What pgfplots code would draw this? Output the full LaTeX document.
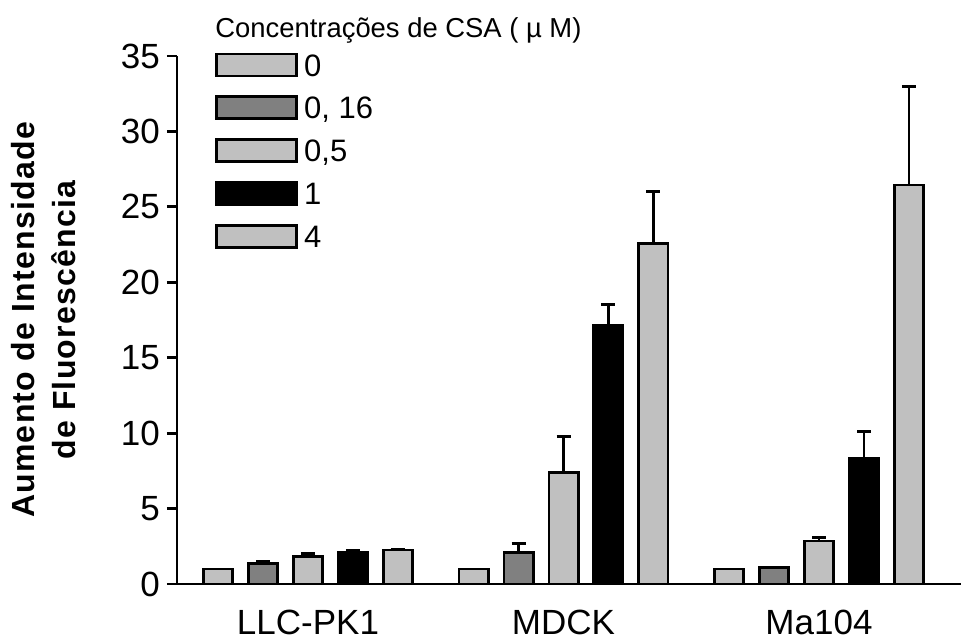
\documentclass[border=0pt]{standalone}
\usepackage{fontspec}
\setmainfont{Liberation Sans}
\usepackage{pgfplots}
\usepackage{pgfplotstable}
\pgfplotsset{compat=1.18}

\definecolor{lightbar}{HTML}{C0C0C0}
\definecolor{darkbar}{HTML}{808080}

% x: bar position (cell lines at 0 = LLC-PK1, 1 = MDCK, 2 = Ma104),
% y: mean fluorescence increase, err: upper error
\pgfplotstableread{
x y err
-0.3522 1.00 0.00
0.6478 1.00 0.00
1.6478 1.00 0.00
}\concA
\pgfplotstableread{
x y err
-0.1761 1.35 0.15
0.8239 2.10 0.60
1.8239 1.10 0.03
}\concB
\pgfplotstableread{
x y err
0 1.80 0.20
1 7.40 2.40
2 2.85 0.25
}\concC
\pgfplotstableread{
x y err
0.1761 2.10 0.10
1.1761 17.15 1.40
2.1761 8.30 1.80
}\concD
\pgfplotstableread{
x y err
0.3522 2.25 0.05
1.3522 22.55 3.45
2.3522 26.45 6.55
}\concE

\pgfplotsset{
  concbar/.style={
    ybar, bar width=14.6pt, bar shift=0pt, draw=black, line width=1.4pt,
    legend image code/.code={\draw[##1] (0pt,-5.5pt) rectangle (40pt,5.5pt);},
    error bars/y dir=plus, error bars/y explicit,
    error bars/error bar style={line width=1.4pt, black},
    error bars/error mark options={rotate=90, mark size=3.5pt, line width=1.4pt, black},
  },
}

\begin{document}
\begin{tikzpicture}
\path[use as bounding box] (-88.5pt,-27.5pt) rectangle (392pt,292pt);
\begin{axis}[
  at={(0,0)}, anchor=south west,
  scale only axis, width=392pt, height=264pt,
  xmin=-0.5127, xmax=2.5558, ymin=0, ymax=35,
  axis x line=bottom, axis y line=left,
  axis line style={line width=1.4pt, -},
  x axis line style={-}, y axis line style={-},
  xtick={0,1,2}, xticklabels={LLC-PK1, MDCK, Ma104},
  x tick style={draw=none},
  xticklabel style={yshift=-4.5pt},
  ytick={0,5,...,35}, tick align=outside, major tick length=5pt,
  y tick style={line width=1.4pt, black},
  /pgf/number format/assume math mode=true,
  tick label style={font=\fontsize{17.5}{20}\selectfont},
  ylabel={Aumento de Intensidade\\de Fluorescência},
  ylabel style={at={(axis description cs:-0.1696,0.5)}, anchor=center, align=center,
    font=\fontsize{16}{20.5}\selectfont\bfseries\addfontfeature{LetterSpace=4}},
  legend style={at={(axis description cs:0.0485,1.0071)}, anchor=north west,
    draw=none, fill=none, inner sep=0pt, row sep=9pt,
    nodes={inner sep=0pt, text height=11pt, text depth=0pt,
      font=\fontsize{15.5}{18}\selectfont},
    /tikz/every odd column/.append style={column sep=3pt}},
  legend cell align=left,
  clip=false,
]
\addplot[concbar, fill=lightbar] table[x=x, y=y, y error=err] {\concA};
\addlegendentry{0}
\addplot[concbar, fill=darkbar] table[x=x, y=y, y error=err] {\concB};
\addlegendentry{0, 16}
\addplot[concbar, fill=lightbar] table[x=x, y=y, y error=err] {\concC};
\addlegendentry{0,5}
\addplot[concbar, fill=black] table[x=x, y=y, y error=err] {\concD};
\addlegendentry{1}
\addplot[concbar, fill=lightbar] table[x=x, y=y, y error=err] {\concE};
\addlegendentry{4}
\node[anchor=west, inner sep=0pt, font=\fontsize{13.7}{16}\selectfont]
  at (axis description cs:0.0485,1.049) {Concentrações de CSA ( µ M)};
\end{axis}
\end{tikzpicture}
\end{document}
